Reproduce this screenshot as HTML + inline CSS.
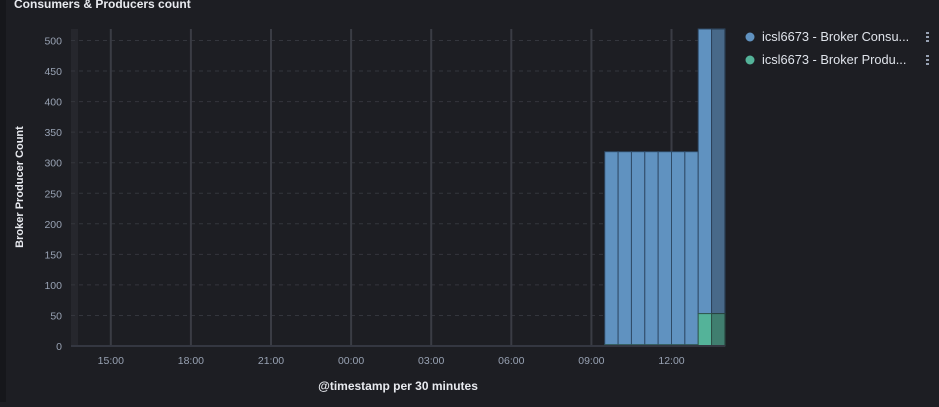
<!DOCTYPE html>
<html><head><meta charset="utf-8"><style>
body{margin:0;width:939px;height:402px;background:#1d1e23;overflow:hidden;font-family:"Liberation Sans",sans-serif}
</style></head><body>
<svg width="939" height="402" xmlns="http://www.w3.org/2000/svg">
<rect x="0" y="0" width="6" height="402" fill="#16171b"/>
<text x="14" y="8" fill="#e8eaef" font-size="12" font-weight="bold">Consumers &amp; Producers count</text>
<g id="grid"></g>
<g id="bars"></g>
<g id="axes"></g>
<text transform="translate(23,187) rotate(-90)" text-anchor="middle" fill="#e8eaef" font-size="11" font-weight="bold">Broker Producer Count</text>
<text x="398" y="390" text-anchor="middle" fill="#e8eaef" font-size="12" font-weight="bold">@timestamp per 30 minutes</text>
<g>
<circle cx="750" cy="37" r="4.5" fill="#6092c0"/>
<text x="762" y="41" fill="#dfe3ea" font-size="12.8">icsl6673 - Broker Consu...</text>
<g fill="#98a2b3"><rect x="926" y="32" width="3" height="2"/><rect x="926" y="36" width="3" height="2"/><rect x="926" y="40" width="3" height="2"/></g>
</g>
<g>
<circle cx="750" cy="60" r="4.5" fill="#54b399"/>
<text x="762" y="64" fill="#dfe3ea" font-size="12.8">icsl6673 - Broker Produ...</text>
<g fill="#98a2b3"><rect x="926" y="55" width="3" height="2"/><rect x="926" y="59" width="3" height="2"/><rect x="926" y="63" width="3" height="2"/></g>
</g>
</svg>
<script>
// bucket start times (hours since 15:00 on day 1)
const bucketHours=[18.5,19,19.5,20,20.5,21,21.5,22,22.5];
const consumerValues=[316,316,316,316,316,316,316,647,647];
const producerValues=[2,2,2,2,2,2,2,53,53];
const yTicks=[0,50,100,150,200,250,300,350,400,450,500];
const xTickHours=[0,3,6,9,12,15,18,21];
const xTickLabels=["15:00","18:00","21:00","00:00","03:00","06:00","09:00","12:00"];
const NS="http://www.w3.org/2000/svg";
const L=71,R=725,T=29,B=346;
const xs=h=>110.8+26.7*h;
const ys=v=>B-v*0.611;
function mk(tag,at,parent){const e=document.createElementNS(NS,tag);for(const k in at)e.setAttribute(k,at[k]);document.getElementById(parent).appendChild(e);return e;}
mk('rect',{x:L,y:T,width:7,height:B-T,fill:'#26272d'},'grid');
yTicks.forEach(v=>{const y=ys(v);
 if(v>0){const l=mk('line',{x1:L,x2:R,y1:y,y2:y,stroke:'#34363d','stroke-dasharray':'4 4'},'grid');
 
 }
 const t=mk('text',{x:62,y:y+4,'text-anchor':'end',fill:'#98a2b3','font-size':'10.5'},'axes');t.textContent=v;
 
 
});
xTickHours.forEach((h,i)=>{const x=xs(h);
 const l=mk('line',{x1:x,x2:x,y1:T,y2:B,stroke:'#3a3c44','stroke-width':2},'grid');
 
 
 const t=mk('text',{x:x,y:364,'text-anchor':'middle',fill:'#98a2b3','font-size':'10.5'},'axes');t.textContent=xTickLabels[i];
 
 
});
mk('line',{x1:L,x2:R,y1:B,y2:B,stroke:'#343741','stroke-width':2},'axes');
bucketHours.forEach((h,i)=>{
 const x0=xs(h),x1=Math.min(xs(h+0.5),R),w=x1-x0;
 const pv=producerValues[i],cv=consumerValues[i];
 const yp=ys(pv),yc=Math.max(ys(pv+cv),T);
 const c=mk('rect',{x:x0,y:yc,width:w,height:yp-yc,fill:'#6092c0',stroke:'#2f4a66','stroke-width':1},'bars');
 
 
 const p=mk('rect',{x:x0,y:yp,width:w,height:B-yp,fill:'#54b399',stroke:'#2f5a4e','stroke-width':1},'bars');
 
 
});
const lastX=xs(bucketHours[bucketHours.length-1]);
mk('rect',{x:lastX,y:T,width:R-lastX,height:B-T,fill:'#1d1e23',opacity:0.35},'bars');
</script>
</body></html>
